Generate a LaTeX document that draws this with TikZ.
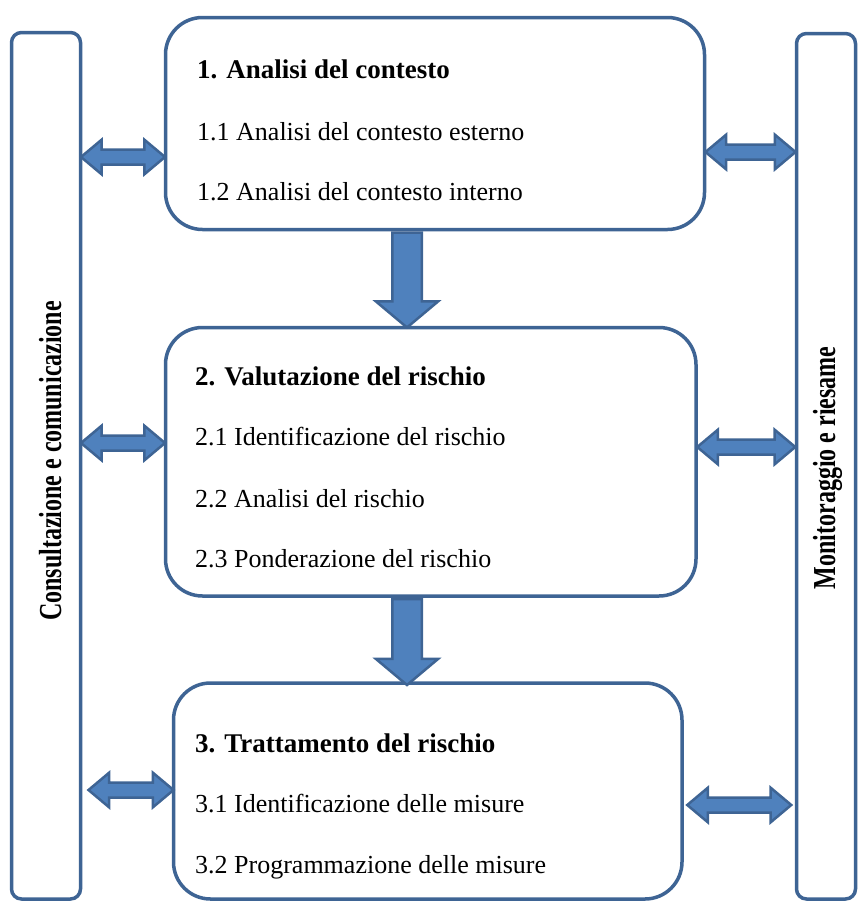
\documentclass[tikz,border=0pt]{standalone}
\usepackage{fontspec}
\setmainfont{Liberation Serif}
\usetikzlibrary{shapes.arrows,calc}
\definecolor{Edge}{HTML}{3E6494}
\definecolor{Body}{HTML}{4F81BD}
\tikzset{stage/.style={draw=Edge,line width=3.5pt,fill=white,rounded corners=37pt,inner sep=0pt},side/.style={draw=Edge,line width=3.5pt,fill=white,rounded corners=10pt,inner sep=0pt},txt/.style={anchor=base west,inner sep=0pt,font=\fontsize{26}{30}\selectfont},ttl/.style={txt,font=\fontsize{27}{30}\selectfont\bfseries},vlab/.style={rotate=90,anchor=base,inner sep=0pt,font=\fontsize{32}{38}\selectfont\bfseries},link/.style={double arrow,draw=Edge,fill=Body,line width=2.5pt,inner xsep=0pt,inner ysep=6.25pt,double arrow head extend=9.75pt,double arrow tip angle=80,double arrow head indent=0pt},flow/.style={single arrow,rotate=-90,anchor=tail,draw=Edge,fill=Body,line width=2.5pt,inner xsep=0pt,inner ysep=13.5pt,single arrow head extend=16.5pt,single arrow tip angle=100,single arrow head indent=0pt}}

\begin{document}
\begin{tikzpicture}[x=1pt,y=-1pt]
\useasboundingbox (0,0) rectangle (857,902);

% side columns
\node[side,minimum width=69pt,minimum height=866.5pt] (cc) at (46,465.75) {};
\node[side,minimum width=59pt,minimum height=865.5pt] (mr) at (826,466.25) {};
\node[vlab] (cclab) at (61,461) {\scalebox{.75}[1]{Consultazione e comunicazione}};
\node[vlab] (mrlab) at (835,468) {\scalebox{.75}[1]{Monitoraggio e riesame}};

% the three stages
\node[stage,minimum width=539pt,minimum height=212pt] (ctx) at (435,123.5) {};
\node[stage,minimum width=530.5pt,minimum height=268.5pt] (val) at (430.75,461.75) {};
\node[stage,minimum width=508.5pt,minimum height=216pt] (trt) at (427.75,791) {};

\node[ttl] (ctxh) at (197,78) {1. Analisi del contesto};
\node[txt] (ctx1) at (197,140) {1.1 Analisi del contesto esterno};
\node[txt] (ctx2) at (197,200) {1.2 Analisi del contesto interno};

\node[ttl] (valh) at (195,385) {2. Valutazione del rischio};
\node[txt] (val1) at (195,445) {2.1 Identificazione del rischio};
\node[txt] (val2) at (195,507) {2.2 Analisi del rischio};
\node[txt] (val3) at (195,567) {2.3 Ponderazione del rischio};

\node[ttl] (trth) at (195,752) {3. Trattamento del rischio};
\node[txt] (trt1) at (195,812) {3.1 Identificazione delle misure};
\node[txt] (trt2) at (195,873) {3.2 Programmazione delle misure};

% flow between stages
\node[flow,minimum height=95pt] (ctxval) at (407,0 |- ctx.south) {};
\node[flow,minimum height=86pt] (valtrt) at (407,0 |- val.south) {};

% links to the side columns
\node[link,minimum height=84pt] (ccctx) at ($(cc.east |- 0,157)!.5!(ctx.west |- 0,157)$) {};
\node[link,minimum height=90pt] (ctxmr) at ($(ctx.east |- 0,152)!.5!(mr.west |- 0,152)$) {};
\node[link,minimum height=84pt] (ccval) at ($(cc.east |- 0,443)!.5!(val.west |- 0,443)$) {};
\node[link,minimum height=98pt] (valmr) at ($(val.east |- 0,447)!.5!(mr.west |- 0,447)$) {};
\node[link,minimum height=85pt] (cctrt) at (131,790) {};
\node[link,minimum height=104pt] (trtmr) at ($(trt.east |- 0,805)!.5!(mr.west |- 0,805)$) {};
\end{tikzpicture}
\end{document}
